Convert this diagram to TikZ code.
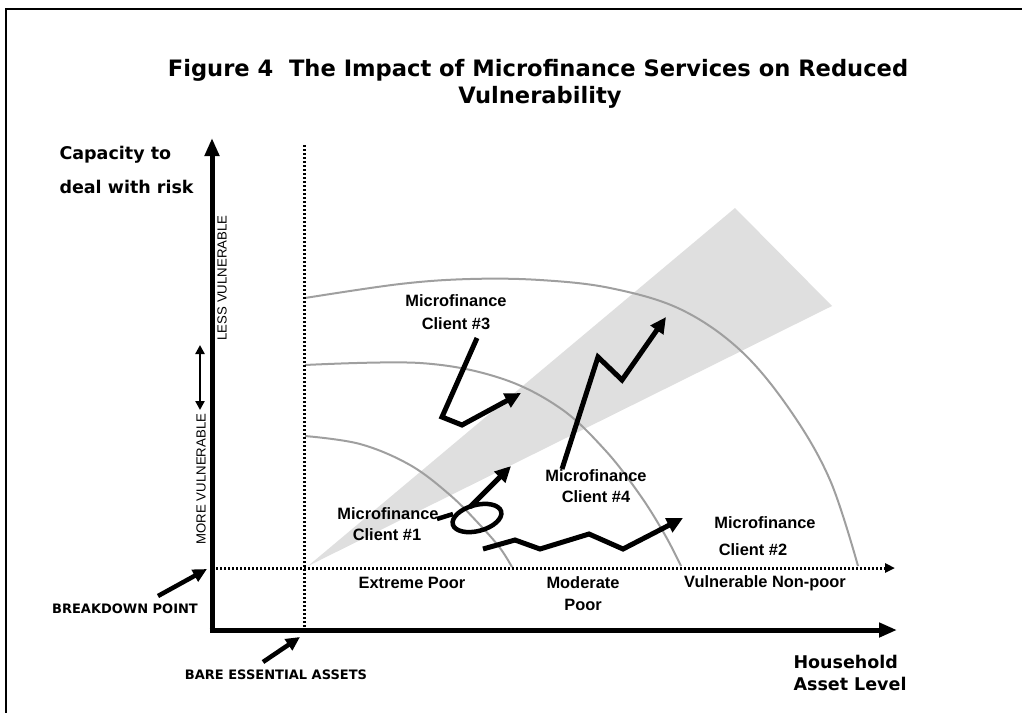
\documentclass[tikz,border=0pt]{standalone}
\usepackage{fontspec}
\setmainfont{Liberation Sans}
\newfontfamily\verdana{DejaVu Sans}
\usetikzlibrary{arrows.meta}

\begin{document}
\begin{tikzpicture}[x=1pt,y=-1pt,
  heading/.style={font=\verdana\bfseries\fontsize{22.6}{26}\selectfont, align=center},
  axislabel/.style={font=\verdana\bfseries\fontsize{17.5}{22}\selectfont, anchor=west},
  note/.style={font=\verdana\bfseries\fontsize{13}{15}\selectfont},
  client/.style={font=\bfseries\fontsize{16.4}{19}\selectfont},
  vuln/.style={font=\fontsize{13.2}{15}\selectfont, rotate=90, inner sep=0pt},
  axis/.style={line width=5pt, -{Triangle[length=18pt,width=14pt]}},
  guide/.style={line width=3pt, dash pattern=on 2.4pt off 1.6pt},
  contour/.style={draw=gray!75, line width=2pt},
  clientpath/.style={line width=5pt, -{Triangle[length=16pt,width=15pt]}},
  pointer/.style={line width=4.5pt, -{Triangle[length=14pt,width=13pt]}}
]
\useasboundingbox (0,0) rectangle (1022,713);

% frame
\draw[line width=2.5pt] (5,9) -- (1022,9);
\draw[line width=2.5pt] (6,8) -- (6,713);

% title
\node[heading] (title1) at (538,70) {Figure 4\ \ The Impact of Microfinance Services on Reduced};
\node[heading] (title2) at (540,97) {Vulnerability};

% band of improvement
\fill[gray!25] (308,566) -- (735,208) -- (832,306) -- cycle;

% vulnerability contours
\draw[contour] plot[smooth, tension=0.6] coordinates {(305,298) (400,284) (470,279) (540,280) (610,288) (680,309) (740,350) (790,410) (830,480) (858,566)};
\draw[contour] plot[smooth, tension=0.6] coordinates {(305,365) (420,363) (500,378) (560,408) (605,450) (640,495) (665,535) (681,566)};
\draw[contour] plot[smooth, tension=0.6] coordinates {(305,436) (360,444) (410,465) (450,495) (480,525) (500,548) (512,567)};

% axes
\coordinate (origin) at (212,630);
\coordinate (ytop) at (212,138);
\coordinate (xend) at (897,630);
\draw[axis] (212,632.5) -- (ytop);
\draw[axis] (209.5,630) -- (xend);

% breakdown and essential-asset guides
\coordinate (bl) at (212,568);
\coordinate (br) at (895,568);
\coordinate (vt) at (304,145);
\coordinate (vb) at (304,630);
\draw[guide, -{Triangle[length=10pt,width=9pt]}] (bl) -- (br);
\draw[guide] (vt) -- (vb);

% vulnerability scale
\node[vuln] (less) at (222,278) {LESS VULNERABLE};
\node[vuln] (more) at (201,479) {MORE VULNERABLE};
\coordinate (dtop) at (200,345);
\coordinate (dbot) at (200,410);
\draw[line width=2.5pt, {Triangle[length=9pt,width=9pt]}-{Triangle[length=9pt,width=9pt]}] (dtop) -- (dbot);

% axis titles
\node[axislabel] (cap1) at (56,155) {Capacity to};
\node[axislabel] (cap2) at (56,187) {deal with risk};
\node[axislabel] (hh1) at (790,662) {Household};
\node[axislabel] (hh2) at (790,684) {Asset Level};

% markers
\node[note] (breakdown) at (125,609) {BREAKDOWN POINT};
\node[note] (bare) at (276,675) {BARE ESSENTIAL ASSETS};
\coordinate (bk0) at (158,596);
\coordinate (bk1) at (207,569);
\coordinate (be0) at (263,662);
\coordinate (be1) at (300,637);
\draw[pointer] (bk0) -- (bk1);
\draw[pointer] (be0) -- (be1);

% poverty bands
\node[client] (ext) at (412,583) {Extreme Poor};
\node[client] (mod1) at (583,583) {Moderate};
\node[client] (mod2) at (583,605) {Poor};
\node[client] (vnp) at (765,583) {Vulnerable Non-poor};

% client labels
\node[client] (c3a) at (456,301) {Microfinance};
\node[client] (c3b) at (456,324) {Client \#3};
\node[client] (c4a) at (596,476) {Microfinance};
\node[client] (c4b) at (596,497) {Client \#4};
\node[client] (c1a) at (388,514) {Microfinance};
\node[client] (c1b) at (387,535) {Client \#1};
\node[client] (c2a) at (765,523) {Microfinance};
\node[client] (c2b) at (753,550) {Client \#2};

% client #3
\coordinate (p3a) at (477,338);
\coordinate (p3b) at (442,417);
\coordinate (p3c) at (462,425);
\coordinate (p3d) at (521,393);
\draw[clientpath] (p3a) -- (p3b) -- (p3c) -- (p3d);

% client #4
\coordinate (p4a) at (562,469);
\coordinate (p4b) at (598,357);
\coordinate (p4c) at (622,380);
\coordinate (p4d) at (666,317);
\draw[clientpath] (p4a) -- (p4b) -- (p4c) -- (p4d);

% client #1
\coordinate (p1a) at (437,519);
\coordinate (p1b) at (453,514);
\coordinate (loop) at (477,518);
\coordinate (p1c) at (470,507);
\coordinate (p1d) at (511,466);
\draw[line width=4.5pt] (p1a) -- (p1b);
\draw[line width=4.5pt, shift={(loop)}, rotate=15] (0,0) ellipse [x radius=25, y radius=13];
\draw[clientpath] (p1c) -- (p1d);

% client #2
\coordinate (p2a) at (483,549);
\coordinate (p2b) at (515,540);
\coordinate (p2c) at (540,549);
\coordinate (p2d) at (589,534);
\coordinate (p2e) at (623,549);
\coordinate (p2f) at (683,518);
\draw[clientpath] (p2a) -- (p2b) -- (p2c) -- (p2d) -- (p2e) -- (p2f);

\end{tikzpicture}
\end{document}
